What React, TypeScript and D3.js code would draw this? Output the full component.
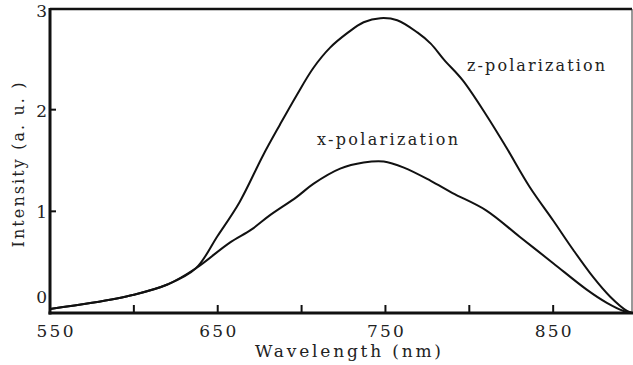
import React from 'react';
import * as d3 from 'd3';

// wavelengths (nm) and intensities (a.u.)
const zWave = [550, 575, 600, 620, 637, 650, 663, 677, 687, 697, 707, 717, 727, 737, 747, 757, 769, 777, 785, 796, 810, 822, 836, 850, 862, 874, 884, 894, 897];
const zVals = [0.04, 0.10, 0.18, 0.28, 0.44, 0.76, 1.09, 1.55, 1.85, 2.14, 2.41, 2.61, 2.75, 2.86, 2.90, 2.88, 2.76, 2.65, 2.49, 2.29, 1.95, 1.63, 1.24, 0.91, 0.62, 0.35, 0.16, 0.02, 0.0];
const xWave = [550, 575, 600, 620, 637, 657, 670, 681, 697, 707, 723, 737, 749, 761, 777, 790, 810, 830, 850, 870, 882, 892, 897];
const xVals = [0.04, 0.10, 0.18, 0.28, 0.44, 0.69, 0.82, 0.96, 1.14, 1.27, 1.42, 1.48, 1.49, 1.43, 1.30, 1.18, 1.01, 0.75, 0.49, 0.23, 0.10, 0.02, 0.0];

const xLabelTicks = [550, 650, 750, 850];
const xMarkTicks = [600, 650, 700, 750, 800, 850];
const yLabelTicks = [0, 1, 2, 3];
const yMarkTicks = [1, 2];

const W = 633;
const H = 365;
const left = 50, right = 632, top = 9, bottom = 313;

const FONT = '"DejaVu Serif", "Liberation Serif", serif';

const App: React.FC = () => {
  const x = d3.scaleLinear().domain([550, 897]).range([left, right]);
  const y = d3.scaleLinear().domain([0, 3]).range([bottom, 8]);

  const line = d3.line<[number, number]>()
    .x(d => x(d[0]))
    .y(d => y(d[1]))
    .curve(d3.curveCatmullRom.alpha(0.5));

  const zData = zWave.map((w, i) => [w, zVals[i]] as [number, number]);
  const xData = xWave.map((w, i) => [w, xVals[i]] as [number, number]);

  // keep the corner labels inside the frame like the original
  const yLabelPos = (v: number) => Math.min(Math.max(y(v) + 10, 20), 306);

  return (
    <svg width={W} height={H} style={{ position: 'absolute', left: 0, top: 0, background: '#fff' }}>
      <rect x={0} y={0} width={W} height={H} fill="#fff" />

      {/* frame */}
      <line x1={left} x2={right} y1={top} y2={top} stroke="#111" strokeWidth={2.5} />
      <line x1={right} x2={right} y1={top} y2={bottom} stroke="#333" strokeWidth={1} />
      <line x1={left} x2={left} y1={top - 1} y2={bottom + 1.5} stroke="#111" strokeWidth={3} />
      <line x1={left - 1.5} x2={right + 1} y1={bottom} y2={bottom} stroke="#111" strokeWidth={3} />

      {/* ticks */}
      {xMarkTicks.map(t => (
        <line key={'xt' + t} x1={x(t)} x2={x(t)} y1={bottom} y2={bottom - 8} stroke="#111" strokeWidth={2} />
      ))}
      {yMarkTicks.map(t => (
        <line key={'yt' + t} x1={left} x2={left + 6} y1={y(t)} y2={y(t)} stroke="#111" strokeWidth={2} />
      ))}

      {/* tick labels */}
      {xLabelTicks.map(t => (
        <text key={'xl' + t} x={x(t) + (t === 550 ? 5 : 0)} y={337} textAnchor="middle"
          fontFamily={FONT} fontSize={17} fill="#222" textLength={37} lengthAdjust="spacing">{t}</text>
      ))}
      {yLabelTicks.map(t => (
        <text key={'yl' + t} x={47} y={yLabelPos(t) - 3} textAnchor="end"
          fontFamily={FONT} fontSize={17} fill="#222">{t}</text>
      ))}

      {/* axis titles */}
      <text x={348} y={357} textAnchor="middle" fontFamily={FONT} fontSize={17} fill="#222"
        textLength={186} lengthAdjust="spacing">Wavelength (nm)</text>
      <text transform="translate(24,165) rotate(-90)" textAnchor="middle" fontFamily={FONT} fontSize={16}
        fill="#222" textLength={165} lengthAdjust="spacing">Intensity (a. u. )</text>

      {/* curves */}
      <path d={line(zData) ?? ''} fill="none" stroke="#111" strokeWidth={2} />
      <path d={line(xData) ?? ''} fill="none" stroke="#111" strokeWidth={2} />

      {/* curve labels */}
      <text x={467} y={71} fontFamily={FONT} fontSize={16} fill="#222" textLength={138} lengthAdjust="spacing">z-polarization</text>
      <text x={317} y={145} fontFamily={FONT} fontSize={16} fill="#222" textLength={141} lengthAdjust="spacing">x-polarization</text>
    </svg>
  );
};

export default App;
